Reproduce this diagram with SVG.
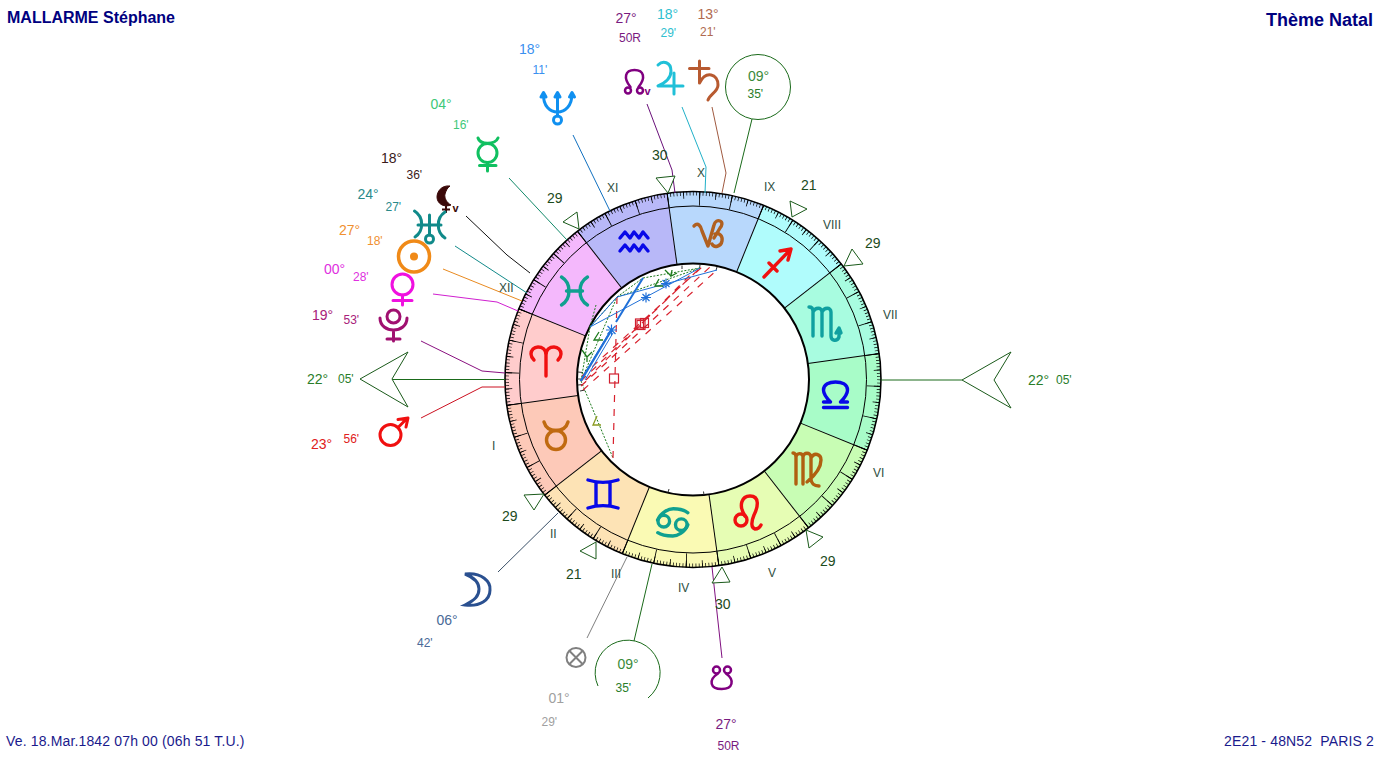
<svg xmlns="http://www.w3.org/2000/svg" width="1385" height="759" viewBox="0 0 1385 759">
<style>
text{font-family:"Liberation Sans",Arial,sans-serif;font-size:14px}
.m{font-size:12px}
.h{font-size:12px;fill:#2f4f3f}
.c{font-size:14px;fill:#1c4a1c}
.title{font-weight:bold;fill:#00007f}
.foot{font-size:14px;fill:#1a1a8c;letter-spacing:.15px}
.sec{fill:none;stroke-width:72;stroke-dasharray:30 330}
.tk{fill:none;stroke:#000}
.sb{stroke:#000;stroke-width:1}
.g{fill:none;stroke-width:3;stroke-linecap:round;stroke-linejoin:round}
.gt{fill:none;stroke-width:3.4;stroke-linecap:round;stroke-linejoin:round}
.n{fill:none;stroke:#800080;stroke-width:2.5;stroke-linecap:round}
.wire{fill:none;stroke-width:1}
.tri{fill:#fff;stroke:#1a5a1a;stroke-width:1}
.asp{fill:none;stroke-width:1}
.gd{stroke:#1c7a1c;stroke-dasharray:2 1.5}
.bl{stroke:#2070d8}
.rd{stroke:#d8202c;stroke-width:1.2;stroke-dasharray:7 7}
.sq{fill:none;stroke:#d02030;stroke-width:1.2}
.mk{fill:none;stroke:#1c7a1c;stroke-width:1.3}
.star{stroke:#2070d8;stroke-width:1.2;fill:none}
</style>
<rect width="1385" height="759" fill="#fff"/>

<g id="zodiac-sectors">
<circle class="sec" cx="693" cy="379.5" r="152" pathLength="360" stroke="#ffcccc" transform="rotate(172.08 693 379.5)"/>
<circle class="sec" cx="693" cy="379.5" r="152" pathLength="360" stroke="#fdc9b8" transform="rotate(142.08 693 379.5)"/>
<circle class="sec" cx="693" cy="379.5" r="152" pathLength="360" stroke="#fde3b5" transform="rotate(112.08 693 379.5)"/>
<circle class="sec" cx="693" cy="379.5" r="152" pathLength="360" stroke="#fafab4" transform="rotate(82.08 693 379.5)"/>
<circle class="sec" cx="693" cy="379.5" r="152" pathLength="360" stroke="#e6fdb4" transform="rotate(52.08 693 379.5)"/>
<circle class="sec" cx="693" cy="379.5" r="152" pathLength="360" stroke="#c8fdb4" transform="rotate(22.08 693 379.5)"/>
<circle class="sec" cx="693" cy="379.5" r="152" pathLength="360" stroke="#a8fcc8" transform="rotate(-7.92 693 379.5)"/>
<circle class="sec" cx="693" cy="379.5" r="152" pathLength="360" stroke="#a8fce0" transform="rotate(-37.92 693 379.5)"/>
<circle class="sec" cx="693" cy="379.5" r="152" pathLength="360" stroke="#b0fcfc" transform="rotate(-67.92 693 379.5)"/>
<circle class="sec" cx="693" cy="379.5" r="152" pathLength="360" stroke="#b8d8fc" transform="rotate(-97.92 693 379.5)"/>
<circle class="sec" cx="693" cy="379.5" r="152" pathLength="360" stroke="#b8b8f8" transform="rotate(-127.92 693 379.5)"/>
<circle class="sec" cx="693" cy="379.5" r="152" pathLength="360" stroke="#f4b8fc" transform="rotate(-157.92 693 379.5)"/>
</g>

<g id="wheel">
<circle class="tk" cx="693" cy="379.5" r="186" stroke-width="4" pathLength="360" stroke-dasharray=".22 .78" stroke-dashoffset=".11" transform="rotate(202.08 693 379.5)"/>
<circle class="tk" cx="693" cy="379.5" r="184.5" stroke-width="7" pathLength="360" stroke-dasharray=".24 4.76" stroke-dashoffset=".12" transform="rotate(202.08 693 379.5)"/>
<circle class="tk" cx="693" cy="379.5" r="181" stroke-width="14" pathLength="360" stroke-dasharray=".26 9.74" stroke-dashoffset=".13" transform="rotate(202.08 693 379.5)"/>
<g class="sb">
<line x1="505" y1="379.5" x2="577" y2="379.5" transform="rotate(22.08 693 379.5)"/>
<line x1="505" y1="379.5" x2="577" y2="379.5" transform="rotate(52.08 693 379.5)"/>
<line x1="505" y1="379.5" x2="577" y2="379.5" transform="rotate(82.08 693 379.5)"/>
<line x1="505" y1="379.5" x2="577" y2="379.5" transform="rotate(112.08 693 379.5)"/>
<line x1="505" y1="379.5" x2="577" y2="379.5" transform="rotate(142.08 693 379.5)"/>
<line x1="505" y1="379.5" x2="577" y2="379.5" transform="rotate(172.08 693 379.5)"/>
<line x1="505" y1="379.5" x2="577" y2="379.5" transform="rotate(202.08 693 379.5)"/>
<line x1="505" y1="379.5" x2="577" y2="379.5" transform="rotate(232.08 693 379.5)"/>
<line x1="505" y1="379.5" x2="577" y2="379.5" transform="rotate(262.08 693 379.5)"/>
<line x1="505" y1="379.5" x2="577" y2="379.5" transform="rotate(292.08 693 379.5)"/>
<line x1="505" y1="379.5" x2="577" y2="379.5" transform="rotate(322.08 693 379.5)"/>
<line x1="505" y1="379.5" x2="577" y2="379.5" transform="rotate(352.08 693 379.5)"/>
</g>
<circle cx="693" cy="379.5" r="173.5" fill="none" stroke="#000" stroke-width="1"/>
<circle cx="693" cy="379.5" r="188" fill="none" stroke="#000" stroke-width="1.6"/>
<circle cx="693" cy="379.5" r="116" fill="#fff" stroke="#000" stroke-width="2"/>
<path d="M578,372l5,.5M577.500,379h5M578,385l5,-.5M580,391l5,-1M682,265.500l0,3.500M700,265l-.5,4M717,267l-1,3.500M668,492.500l1,-3.500M704,495l-.5,-3.500" stroke="#333" stroke-width="1" fill="none"/>
</g>

<g id="aspects">
<path class="asp gd" d="M581,381L613,458M581,381L590,327M581,381L617,297M617,297L700,268M643,278L700,268M590,327L617,297M617,297L643,278M590,327L596,305"/>
<path class="asp rd" d="M617,297L613,458M582,376L702,267M581,381L700,268M581,386L710,267M583,390L717,270M586,380L693,272"/>
<path class="asp bl" d="M590,327L700,268M617,297L717,270M590,327L617,297M583,376L610,331M580,381L612,330M585,380L613,333"/>
<path class="asp bl" style="stroke-width:2" d="M581,381L611,331M616,322L643,278"/>
<rect class="sq" x="609.500" y="374" width="9" height="9"/>
<rect class="sq" x="635.500" y="319" width="8" height="9"/>
<rect class="sq" x="637" y="320.500" width="8" height="9"/>
<rect class="sq" x="640.500" y="318.500" width="8" height="9"/>
<path class="star" d="M606,330h11M611.500,324.500v11M607.500,326l8,8M615.500,326l-8,8"/>
<path class="star" d="M641,297.500h10M646,292.500v10M642.500,294l7,7M649.500,294l-7,7"/>
<path class="star" d="M661,283.500h10M666,278.500v10M662.500,280l7,7M669.500,280l-7,7"/>
<path class="mk" d="M672,270l-1,6l6,-3M665,270l6,6"/>
<path class="mk" d="M659,279l-4,7h8"/>
<path class="mk" d="M599,332l-5,8h9"/>
<path class="mk" d="M582,350l5,7l5,-5M587,357l0,5"/>
<path class="mk" style="stroke:#8a9a20" d="M597,416l-4,9h8"/>
</g>

<g id="connectors">
<polyline class="wire" stroke="#111" points="466,216 507,255 530,273"/>
<polyline class="wire" stroke="#128a8a" points="455,246 527,293"/>
<polyline class="wire" stroke="#e88a20" points="443,269 522,301"/>
<polyline class="wire" stroke="#d020d0" points="433,294 497,302 518,311"/>
<polyline class="wire" stroke="#8a1080" points="421,341 482,371 505,373"/>
<polyline class="wire" stroke="#cc1020" points="421,418 482,387 505,387"/>
<polyline class="wire" stroke="#128a6a" points="509,178 567,240"/>
<polyline class="wire" stroke="#1070c0" points="573,135 610,211"/>
<polyline class="wire" stroke="#6a107a" points="647,104 672,170 675,193"/>
<polyline class="wire" stroke="#20b0c8" points="682,107 706,167 705,193"/>
<polyline class="wire" stroke="#a05a40" points="712,107 726,173 722,193"/>
<polyline class="wire" stroke="#1a6a1a" points="752,119 734,193"/>
<polyline class="wire" stroke="#3a5068" points="498,572 558,513"/>
<polyline class="wire" stroke="#808080" points="587,638 627,557"/>
<polyline class="wire" stroke="#1a6a1a" points="652,564 634,641"/>
<polyline class="wire" stroke="#801080" points="722,658 712,567"/>
<polyline class="wire" stroke="#1a6a1a" points="392,379.500 505,379.500"/>
<polyline class="wire" stroke="#1a6a1a" points="881,380 962,380"/>
</g>

<g id="signs">
<path id="sign-aries" class="gt" stroke="#f01010" transform="translate(546,361)" d="M0,15V-6C0,-12 -4,-14 -8,-14C-12,-14 -15,-11 -15,-7C-15,-4 -13,-2 -12,-1M0,-6C0,-12 4,-14 8,-14C12,-14 15,-11 15,-7C15,-4 13,-2 12,-1"/>
<g id="sign-taurus" class="gt" stroke="#c06a10" transform="translate(556,435)"><circle cy="5" r="9.500"/><path d="M-12,-13C-10,-6 -5,-4.500 0,-4.500C5,-4.500 10,-6 12,-13"/></g>
<path id="sign-gemini" class="gt" stroke="#0808e8" transform="translate(603,494)" d="M-15,-14C-6,-11 6,-11 15,-14M-15,14C-6,11 6,11 15,14M-7,-12V12M7,-12V12"/>
<g id="sign-cancer" class="gt" stroke="#10a090" transform="translate(672.300,522.700)"><path d="M-14.700,-2.700C-11,-11 -3,-14 1,-14C6,-14 12,-13 15.500,-10M15.500,2C12,10 5,13.300 .5,13.300C-5,13.300 -11,12.500 -14.500,10"/><circle cx="-8.500" cy="-1.500" r="5.800"/><circle cx="9" cy="2" r="5.800"/></g>
<g id="sign-leo" class="gt" stroke="#f01010" transform="translate(746,513)"><circle cx="-5" cy="7" r="6"/><path d="M-1,3C-8,-8 -4,-17 4,-17C14,-17 12,-6 8,2C5,9 5,15 9,16C12,16 14,14 15,12"/></g>
<path id="sign-virgo" class="gt" stroke="#b06010" transform="translate(806,469)" d="M-13,-16C-11,-16 -10,-14 -10,-12V15M-10,-12C-10,-16 -3,-17 -3,-12V15M-3,-12C-3,-17 5,-17 5,-12V10C5,14 8,17 13,17M5,-11C8,-17 15,-15 15,-9C15,0 7,8 1,13"/>
<path id="sign-libra" class="gt" stroke="#0808e8" transform="translate(835.500,395)" d="M-12,12.500H12M-12,7H-5C-10,2 -12,-1 -12,-5C-12,-11 -6,-13 0,-13C6,-13 12,-11 12,-5C12,-1 10,2 5,7H12"/>
<path id="sign-scorpio" class="gt" stroke="#10a0a0" transform="translate(825,324)" d="M-16,-17C-13,-17 -12,-15 -12,-13V12M-12,-12C-10,-17 -3,-17 -3,-12V12M-3,-12C-1,-17 6,-17 6,-12V12C6,17 12,18 14,13V5M11,9L14,4L16,9"/>
<path id="sign-sagittarius" class="gt" stroke="#f01010" transform="translate(777,263)" d="M-13,14L14,-14M3,-12L14,-14L11,-3M-8,0L0,8"/>
<path id="sign-capricorn" class="gt" stroke="#b06020" transform="translate(709,234)" d="M-15,-8C-11,-12 -8,-8 -7,-3L-1,12L5,-9C6,-13 9,-14 11,-13C14,-12 13,-8 11,-6L5,4M6,0C10,-2 14,2 13,7C12,13 5,14 3,10"/>
<path id="sign-aquarius" class="gt" stroke="#0808e8" transform="translate(634,244)" d="M-14,-6L-9,-12L-4,-6L0,-12L5,-6L9,-12L14,-6M-14,7L-9,1L-4,7L0,1L5,7L9,1L14,7"/>
<path id="sign-pisces" class="gt" stroke="#10a090" transform="translate(574.500,291)" d="M-13,-14C-3,-8 -3,8 -13,14M13,-14C3,-8 3,8 13,14M-8,0H8"/>
</g>

<g id="houses">
<g id="house-1"><polygon class="tri" points="360,379 408,352 392,379 408,407"/><text x="492" y="450" class="h">I</text></g>
<g id="house-2"><polygon class="tri" points="524,495 544,494 534,510"/><text x="502" y="521" class="c">29</text><text x="550" y="538" class="h">II</text></g>
<g id="house-3"><polygon class="tri" points="596,542 596,559 580,551"/><text x="566" y="579" class="c">21</text><text x="611" y="578" class="h">III</text></g>
<g id="house-4"><text x="678" y="592" class="h">IV</text></g>
<g id="house-5"><polygon class="tri" points="722,567 730,582 712,583"/><text x="715" y="609" class="c">30</text><text x="768" y="577" class="h">V</text></g>
<g id="house-6"><polygon class="tri" points="806,530 823,537 809,548"/><text x="820" y="566" class="c">29</text><text x="873" y="477" class="h">VI</text></g>
<g id="house-7"><polygon class="tri" points="1011,352 962,380 1011,408 994,380"/><text x="883" y="319" class="h">VII</text></g>
<g id="house-8"><polygon class="tri" points="852,249 863,264 844,266"/><text x="865" y="248" class="c">29</text><text x="823" y="229" class="h">VIII</text></g>
<g id="house-9"><polygon class="tri" points="790,201 807,209 792,217"/><text x="801" y="190" class="c">21</text><text x="764" y="191" class="h">IX</text></g>
<g id="house-10"><text x="697" y="177" class="h">X</text></g>
<g id="house-11"><polygon class="tri" points="656,178 675,176 668,193"/><text x="652" y="160" class="c">30</text><text x="607" y="192" class="h">XI</text></g>
<g id="house-12"><polygon class="tri" points="563,222 577,212 579,229"/><text x="547" y="203" class="c">29</text><text x="499" y="292" class="h">XII</text></g>
</g>

<g id="asc-labels">
<text x="307" y="384" fill="#2a7d2a">22°</text><text x="338" y="383" class="m" fill="#2a7d2a">05'</text>
<text x="1028" y="385" fill="#2a7d2a">22°</text><text x="1056" y="384" class="m" fill="#2a7d2a">05'</text>
</g>

<g id="mc">
<circle cx="758" cy="87" r="32.500" fill="none" stroke="#1a6a1a"/>
<text x="748" y="80.500" fill="#3a8a3a">09°</text><text x="747.500" y="97.500" class="m" fill="#2a7d2a">35'</text>
</g>
<g id="ic">
<path d="M598,686A32.500,32.500 0 1 1 648,698" fill="none" stroke="#1a6a1a"/>
<text x="617.500" y="668.500" fill="#3a8a3a">09°</text><text x="615.500" y="692" class="m" fill="#2a7d2a">35'</text>
</g>

<g id="planet-lilith">
<path d="M450,186C441,185 437,192 437,197C437,203 443,208 451,205C447,203 444,198 445,194C446,191 447,188 450,186Z" fill="#3a0808" stroke="#3a0808"/>
<path d="M446,206V213M442,209.500H450" stroke="#3a0808" stroke-width="2" fill="none"/>
<text x="452.500" y="212" style="font-size:11px;font-weight:bold" fill="#3a0808">v</text>
<text x="381" y="163" fill="#3a1a1a">18°</text><text x="406.500" y="178.500" class="m" fill="#3a1a1a">36'</text>
</g>
<g id="planet-uranus" class="g" stroke="#108a8a">
<path d="M414.500,211C424,217 424,231 415,237M445,212C436,218 436,232 445,238M429.500,215V235M418,225H441"/>
<circle cx="429.500" cy="239" r="4"/>
<text x="357.500" y="198.500" fill="#2a8a8a" stroke="none">24°</text><text x="385.500" y="211" class="m" fill="#2a8a8a" stroke="none">27'</text>
</g>
<g id="planet-sun">
<circle cx="414" cy="256.500" r="15.500" fill="none" stroke="#f08a18" stroke-width="3.500"/>
<circle cx="414" cy="256.500" r="4" fill="#f08a18"/>
<text x="339" y="235" fill="#f09030">27°</text><text x="367" y="245" class="m" fill="#f09030">18'</text>
</g>
<g id="planet-venus" class="g" stroke="#f010e0">
<circle cx="402.500" cy="284.500" r="10.500"/>
<path d="M402.500,295V305M393,300.500H412"/>
<text x="324" y="274" fill="#e030e0" stroke="none">00°</text><text x="353" y="281" class="m" fill="#e030e0" stroke="none">28'</text>
</g>
<g id="planet-pluto" class="g" stroke="#a01070">
<circle cx="393.500" cy="316.500" r="6.500"/>
<path d="M380,318C380,334 407,334 407,318M393.500,330V341M387,339H400"/>
<text x="312" y="320" fill="#a8207a" stroke="none">19°</text><text x="343.500" y="324" class="m" fill="#a8207a" stroke="none">53'</text>
</g>
<g id="planet-mars" class="g" stroke="#f01010">
<circle cx="390.500" cy="435" r="10.500"/>
<path d="M398,427.500L407,418.500M398,419.500L408,418L406,427"/>
<text x="311" y="449" fill="#e02020" stroke="none">23°</text><text x="343.500" y="443" class="m" fill="#e02020" stroke="none">56'</text>
</g>
<g id="planet-mercury" class="g" stroke="#10c060">
<circle cx="487.500" cy="153" r="9.500"/>
<path d="M478,138C480,145 495,145 498,138M487.500,163V171M479.500,165.500H496"/>
<text x="430.500" y="109" fill="#40c878" stroke="none">04°</text><text x="453" y="128.500" class="m" fill="#40c878" stroke="none">16'</text>
</g>
<g id="planet-neptune" class="g" stroke="#1090f0">
<path d="M543.500,94C543,106 550,112 557.500,112C565,112 572,106 572,94M557.500,93V116M541,97L543.500,92.500L546,97M555,97L557.500,92.500L560,97M569.500,97L572,92.500L574.500,97"/>
<circle cx="557.500" cy="120" r="4"/>
<text x="519" y="53.500" fill="#3a90f0" stroke="none">18°</text><text x="532.500" y="73.500" class="m" fill="#3a90f0" stroke="none">11'</text>
</g>
<g id="planet-north-node">
<path class="n" d="M630.500,87C623,78 625,70 634.500,70C644,70 646,78 638.500,87"/>
<circle class="n" cx="628" cy="90.500" r="3"/><circle class="n" cx="640" cy="90.500" r="3"/>
<text x="644.500" y="95" style="font-size:11px;font-weight:bold" fill="#800080">v</text>
<text x="615.500" y="23" fill="#7a1a80">27°</text><text x="619" y="42" class="m" fill="#7a1a80">50R</text>
</g>
<g id="planet-jupiter" class="g" stroke="#20c0d8">
<path d="M658,65C663,60 671,62 671,71C671,78 665,83 658,86H683M674,73V94"/>
<text x="657" y="19" fill="#30c0d0" stroke="none">18°</text><text x="660.500" y="37" class="m" fill="#30c0d0" stroke="none">29'</text>
</g>
<g id="planet-saturn" class="g" stroke="#b85a30">
<path d="M699.500,61V83M689.500,68.500H709M699.500,83C706,70 718,74 718,85C718,92 710,94 708,100"/>
<text x="697.500" y="19" fill="#b06a50" stroke="none">13°</text><text x="700" y="36" class="m" fill="#b06a50" stroke="none">21'</text>
</g>
<g id="planet-moon">
<path d="M465,574C482,572 491,582 490,590C490,600 480,607 465,605C475,600 479,596 479,589C479,583 475,578 465,574Z" fill="none" stroke="#2a5090" stroke-width="3"/>
<text x="436.500" y="625" fill="#4a6a98">06°</text><text x="417" y="647" class="m" fill="#4a6a98">42'</text>
</g>
<g id="part-of-fortune">
<circle cx="576" cy="657.500" r="9.500" fill="none" stroke="#808080" stroke-width="2"/>
<path d="M569.500,651L582.500,664M582.500,651L569.500,664" stroke="#808080" stroke-width="2" fill="none"/>
<text x="548.500" y="702.500" fill="#a0a0a0">01°</text><text x="541.500" y="726" class="m" fill="#a0a0a0">29'</text>
</g>
<g id="planet-south-node">
<path class="n" d="M718,673.500C708,680 710,689 721.700,689C733,689 735,680 726,673.500"/>
<circle class="n" cx="716.500" cy="670" r="3.500"/><circle class="n" cx="727.500" cy="670" r="3.500"/>
<text x="715.500" y="729" fill="#7a1a80">27°</text><text x="717.500" y="750" class="m" fill="#7a1a80">50R</text>
</g>

<g id="titles">
<text x="7" y="23" class="title" style="font-size:16px">MALLARME Stéphane</text>
<text x="1373" y="26" class="title" text-anchor="end" style="font-size:18px">Thème Natal</text>
<text x="6" y="746" class="foot">Ve. 18.Mar.1842 07h 00 (06h 51 T.U.)</text>
<text x="1374" y="746" class="foot" text-anchor="end" xml:space="preserve">2E21 - 48N52  PARIS 2</text>
</g>
</svg>
